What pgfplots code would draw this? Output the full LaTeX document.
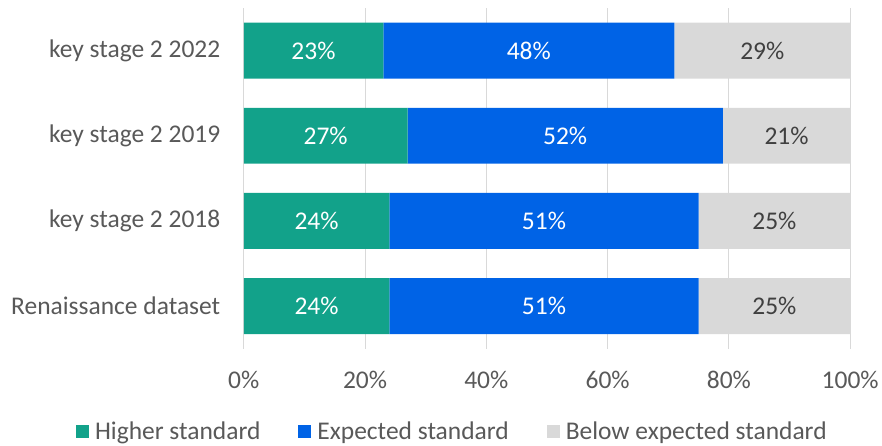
\documentclass[border=0pt]{standalone}
\usepackage{pgfplots}
\pgfplotsset{compat=1.18}
\usepackage{fontspec}
\setmainfont{Carlito}
\definecolor{cgreen}{HTML}{12A28A}
\definecolor{cblue}{HTML}{0063E6}
\definecolor{cgrey}{HTML}{D9D9D9}
\definecolor{ctext}{HTML}{595959}
\definecolor{cdark}{HTML}{404040}
\begin{document}
\begin{tikzpicture}[x=1pt,y=1pt]
\path (0,0) rectangle (882,446);
\begin{axis}[
  at={(244pt,97pt)}, anchor=south west,
  scale only axis, width=607pt, height=341pt,
  xbar stacked, bar width=56pt,
  xmin=0, xmax=100, ymin=-0.5, ymax=3.5,
  ytick={0,1,2,3},
  yticklabels={Renaissance dataset, key stage 2 2018, key stage 2 2019, key stage 2 2022},
  xtick={0,20,40,60,80,100},
  xticklabels={0\%,20\%,40\%,60\%,80\%,100\%},
  xmajorgrids, grid style={cgrey, line width=1pt},
  axis line style={draw=none},
  major tick length=0pt,
  tick label style={font=\fontsize{25.5}{30}\selectfont, text=ctext},
  yticklabel style={xshift=-20pt},
  xticklabel style={yshift=-19pt},
  visualization depends on={rawx \as \rawx},
  nodes near coords={\pgfmathprintnumber[assume math mode=true]{\rawx}\%},
  every node near coord/.append style={anchor=center, font=\fontsize{25.5}{30}\selectfont},
  legend style={at={(0.344,-0.243)}, anchor=center, draw=none, legend columns=3,
    font=\fontsize{25.5}{30}\selectfont, text=ctext,
    /tikz/every odd column/.append style={column sep=4pt},
    /tikz/every even column/.append style={column sep=36pt}},
  legend cell align=left,
  legend image code/.code={\fill[#1] (0pt,-6.5pt) rectangle (13pt,6.5pt);},
]
\addplot[fill=cgreen, draw=none, nodes near coords style={text=white}] coordinates {(24,0) (24,1) (27,2) (23,3)};
\addplot[fill=cblue, draw=none, nodes near coords style={text=white}] coordinates {(51,0) (51,1) (52,2) (48,3)};
\addplot[fill=cgrey, draw=none, nodes near coords style={text=cdark}] coordinates {(25,0) (25,1) (21,2) (29,3)};
\legend{Higher standard, Expected standard, Below expected standard}
\end{axis}
\end{tikzpicture}
\end{document}
